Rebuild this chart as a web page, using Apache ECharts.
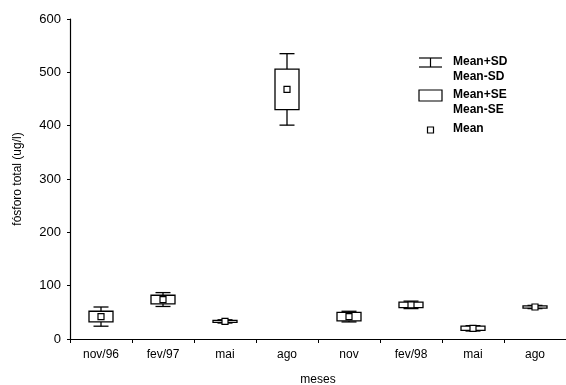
<!DOCTYPE html>
<html>
<head>
<meta charset="utf-8">
<script src="https://cdn.jsdelivr.net/npm/echarts@6/dist/echarts.min.js"></script>
<style>
  html, body { margin: 0; padding: 0; background: #fff; }
  #chart { width: 566px; height: 385px; }
</style>
</head>
<body>
<div id="chart"></div>
<script>
// Monthly total phosphorus: mean, standard error and standard deviation
const categories = ['nov/96', 'fev/97', 'mai', 'ago', 'nov', 'fev/98', 'mai', 'ago'];
const means = [42, 74, 33, 468, 42, 64, 20, 60];
const stdErr = [10, 8, 2, 38, 8, 5, 4, 2];
const stdDev = [18, 13, 3, 67, 10, 7, 5, 3];
const yTicks = { min: 0, max: 600, step: 100 };

const FONT = 'Liberation Sans, Arial, sans-serif';
const INK = '#000';

const chart = echarts.init(document.getElementById('chart'), null, { renderer: 'canvas' });

const seriesData = categories.map((c, i) => [i, means[i], stdErr[i], stdDev[i]]);

function renderStat(params, api) {
  const i = api.value(0);
  const m = api.value(1);
  const se = api.value(2);
  const sd = api.value(3);
  const [cx, yMean] = api.coord([i, m]);
  const ySdTop = api.coord([i, m + sd])[1];
  const ySdBot = api.coord([i, m - sd])[1];
  const ySeTop = api.coord([i, m + se])[1];
  const ySeBot = api.coord([i, m - se])[1];
  const boxW = 24, capW = 15, mk = 6;
  const line = { stroke: INK, lineWidth: 1.3 };
  return {
    type: 'group',
    children: [
      { type: 'line', shape: { x1: cx, y1: ySdTop, x2: cx, y2: ySeTop }, style: line },
      { type: 'line', shape: { x1: cx, y1: ySeBot, x2: cx, y2: ySdBot }, style: line },
      { type: 'line', shape: { x1: cx - capW / 2, y1: ySdTop, x2: cx + capW / 2, y2: ySdTop }, style: line },
      { type: 'line', shape: { x1: cx - capW / 2, y1: ySdBot, x2: cx + capW / 2, y2: ySdBot }, style: line },
      { type: 'rect', shape: { x: cx - boxW / 2, y: ySeTop, width: boxW, height: ySeBot - ySeTop },
        style: { fill: '#fff', stroke: INK, lineWidth: 1.3 } },
      { type: 'rect', shape: { x: cx - mk / 2, y: yMean - mk / 2, width: mk, height: mk },
        style: { fill: '#fff', stroke: INK, lineWidth: 1.2 } }
    ]
  };
}

// Legend drawn as graphic elements
const lgX = 419, txtX = 453;
const lgText = (y, t) => ({ type: 'text', left: txtX, top: y,
  style: { text: t, font: 'bold 12px ' + FONT, fill: INK } });
const legend = [
  { type: 'line', shape: { x1: lgX, y1: 58, x2: lgX + 23, y2: 58 }, style: { stroke: INK, lineWidth: 1.2 } },
  { type: 'line', shape: { x1: lgX + 11.5, y1: 58, x2: lgX + 11.5, y2: 67 }, style: { stroke: INK, lineWidth: 1.2 } },
  { type: 'line', shape: { x1: lgX, y1: 67, x2: lgX + 23, y2: 67 }, style: { stroke: INK, lineWidth: 1.2 } },
  lgText(56, 'Mean+SD'),
  lgText(71, 'Mean-SD'),
  { type: 'rect', shape: { x: lgX, y: 90, width: 23, height: 11 }, style: { fill: '#fff', stroke: INK, lineWidth: 1.2 } },
  lgText(89, 'Mean+SE'),
  lgText(104, 'Mean-SE'),
  { type: 'rect', shape: { x: lgX + 8.5, y: 127, width: 6, height: 6 }, style: { fill: '#fff', stroke: INK, lineWidth: 1.2 } },
  lgText(123, 'Mean')
];

chart.setOption({
  animation: false,
  backgroundColor: '#fff',
  grid: { left: 70, right: 0, top: 19, bottom: 46, containLabel: false, outerBoundsMode: 'none' },
  xAxis: {
    type: 'category',
    data: categories,
    boundaryGap: true,
    name: 'meses',
    nameLocation: 'middle',
    nameGap: 35,
    nameTextStyle: { fontFamily: FONT, fontSize: 12, color: INK },
    axisLine: { lineStyle: { color: INK, width: 1.2 } },
    axisTick: { show: true, interval: 0, length: 4, lineStyle: { color: INK } },
    axisLabel: { interval: 0, margin: 10, fontFamily: FONT, fontSize: 12, color: INK },
    splitLine: { show: false }
  },
  yAxis: {
    type: 'value',
    min: yTicks.min,
    max: yTicks.max,
    interval: yTicks.step,
    name: 'fósforo total (ug/l)',
    nameLocation: 'middle',
    nameGap: 46,
    nameTextStyle: { fontFamily: FONT, fontSize: 12, color: INK },
    axisLine: { show: true, lineStyle: { color: INK, width: 1.2 } },
    axisTick: { show: true, length: 3, lineStyle: { color: INK } },
    axisLabel: { margin: 9, fontFamily: FONT, fontSize: 13, color: INK },
    splitLine: { show: false }
  },
  series: [{
    type: 'custom',
    renderItem: renderStat,
    data: seriesData,
    encode: { x: 0, y: [1] },
    clip: false
  }],
  graphic: legend
});
</script>
</body>
</html>
